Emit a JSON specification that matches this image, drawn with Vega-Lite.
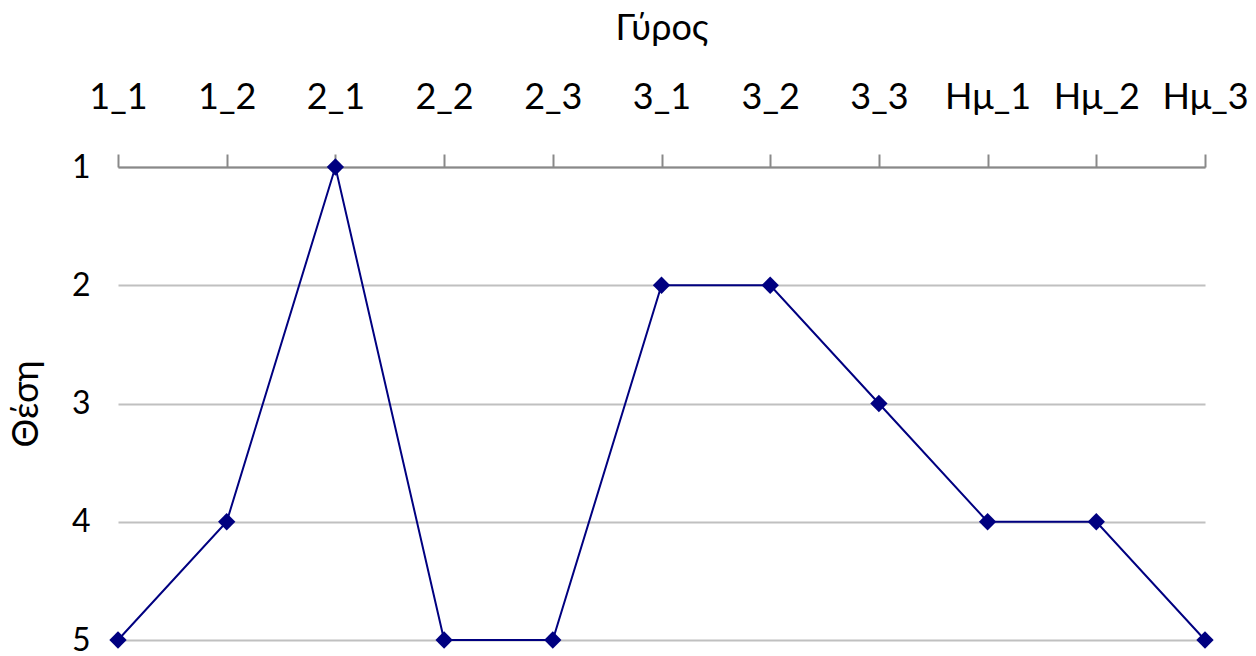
{
  "$schema": "https://vega.github.io/schema/vega-lite/v6.json",
  "autosize": "none",
  "width": 1087,
  "height": 473,
  "padding": {"left": 118, "top": 167, "right": 51, "bottom": 16},
  "background": "white",
  "config": {
    "view": {"stroke": null},
    "font": "Lato"
  },
  "data": {
    "values": [
      {"round": "1_1", "pos": 5},
      {"round": "1_2", "pos": 4},
      {"round": "2_1", "pos": 1},
      {"round": "2_2", "pos": 5},
      {"round": "2_3", "pos": 5},
      {"round": "3_1", "pos": 2},
      {"round": "3_2", "pos": 2},
      {"round": "3_3", "pos": 3},
      {"round": "Ημ_1", "pos": 4},
      {"round": "Ημ_2", "pos": 4},
      {"round": "Ημ_3", "pos": 5}
    ]
  },
  "encoding": {
    "x": {
      "field": "round",
      "type": "ordinal",
      "sort": null,
      "scale": {"type": "point", "padding": 0},
      "axis": {
        "orient": "top",
        "title": "Γύρος",
        "titleFont": "Lato",
        "titleFontSize": 36,
        "titleFontWeight": "normal",
        "titleColor": "black",
        "titlePadding": 32,
        "labelFont": "Lato",
        "labelFontSize": 36,
        "labelColor": "black",
        "labelAngle": 0,
        "labelPadding": 38,
        "tickSize": 13,
        "tickColor": "#898989",
        "tickWidth": 2,
        "domainColor": "#898989",
        "domainWidth": 2,
        "grid": false
      }
    },
    "y": {
      "field": "pos",
      "type": "quantitative",
      "scale": {"domain": [1, 5], "reverse": true, "nice": false, "zero": false},
      "axis": {
        "values": [1, 2, 3, 4, 5],
        "format": "d",
        "title": "Θέση",
        "titleFont": "Lato",
        "titleFontSize": 36,
        "titleFontWeight": "normal",
        "titleColor": "black",
        "titlePadding": 26,
        "labelFont": "Lato",
        "labelFontSize": 32,
        "labelColor": "black",
        "labelPadding": 28,
        "ticks": false,
        "domain": false,
        "grid": true,
        "gridColor": "#c0c0c0",
        "gridWidth": 2
      }
    }
  },
  "layer": [
    {"mark": {"type": "line", "color": "#000080", "strokeWidth": 2}},
    {"mark": {"type": "point", "shape": "diamond", "filled": true, "color": "#000080", "size": 300, "opacity": 1}}
  ]
}
